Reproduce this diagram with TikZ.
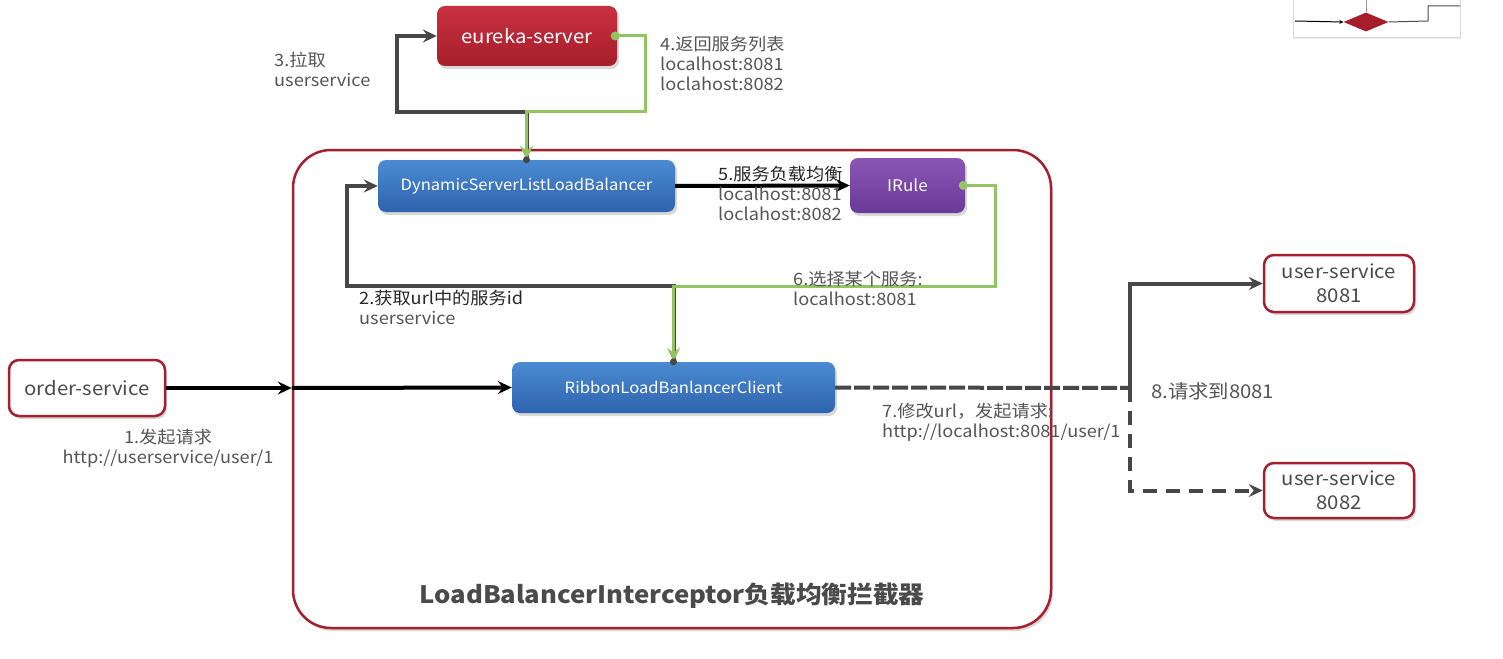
\documentclass[tikz,border=0pt]{standalone}
\usepackage{fontspec}
\setmainfont{Noto Sans CJK SC}[FakeStretch=1.07]
\usetikzlibrary{arrows.meta,shadows,calc,shapes.geometric}
\definecolor{ekTop}{HTML}{C9303F}
\definecolor{ekBot}{HTML}{A61E2C}
\definecolor{blTop}{HTML}{4B8BD1}
\definecolor{blBot}{HTML}{2E63AE}
\definecolor{puTop}{HTML}{8A56B6}
\definecolor{puBot}{HTML}{693A98}
\definecolor{grn}{HTML}{93C462}
\definecolor{dkln}{HTML}{474747}
\definecolor{brdRed}{HTML}{A4202F}
\definecolor{txtGray}{HTML}{4A4A4A}
\definecolor{lblGray}{HTML}{555555}
\begin{document}
\begin{tikzpicture}[x=1pt,y=-1pt,
 shd/.style={drop shadow={shadow xshift=2pt,shadow yshift=-3pt,opacity=0.25,fill=black!60}},
 gbox/.style={rounded corners=8pt, text=white, inner sep=0pt, shd},
 redbox/.style={gbox, top color=ekTop, bottom color=ekBot, font=\fontsize{19}{20}\selectfont},
 bluebox/.style={gbox, top color=blTop, bottom color=blBot, font=\fontsize{15.5}{18}\selectfont},
 purbox/.style={gbox, top color=puTop, bottom color=puBot, font=\fontsize{16}{18}\selectfont},
 wbox/.style={draw=brdRed, line width=2.5pt, fill=white, rounded corners=10pt, text=txtGray, align=center, font=\fontsize{19}{24}\selectfont, inner sep=0pt, shd},
 lbl/.style={font=\fontsize{17}{20}\selectfont, text=lblGray, align=left, inner sep=0pt, anchor=north west},
 arrowend/.style={-{Stealth[length=14pt,width=13pt,inset=5pt]}},
 dkline/.style={draw=dkln, line width=4pt},
 blkline/.style={draw=black, line width=4pt},
 gnline/.style={draw=grn, line width=3pt},
]
\useasboundingbox (0,0) rectangle (1503,658);
\fill[white] (0,0) rectangle (1503,658);

% container
\node[draw=brdRed, line width=2.5pt, rounded corners=38pt, minimum width=758pt, minimum height=478pt, fill=white, shd] (lbi) at (672,389) {};
\node[font=\bfseries\fontsize{24}{28}\selectfont, text=txtGray] (title) at (672,596) {LoadBalancerInterceptor负载均衡拦截器};

% boxes
\node[redbox, minimum width=180pt, minimum height=60pt] (eureka) at (527,36) {eureka-server};
\node[bluebox, minimum width=297pt, minimum height=52pt] (dyn) at (526.5,186) {DynamicServerListLoadBalancer};
\node[purbox, minimum width=115pt, minimum height=55pt] (irule) at (907.5,185.5) {IRule};
\node[bluebox, minimum width=323pt, minimum height=51pt] (ribbon) at (673.5,387.5) {RibbonLoadBanlancerClient};
\node[wbox, minimum width=156pt, minimum height=56pt] (order) at (87,388) {order-service};
\node[wbox, minimum width=150pt, minimum height=57pt] (us1) at (1339,283.5) {user-service\\8081};
\node[wbox, minimum width=150pt, minimum height=55pt] (us2) at (1339,490.5) {user-service\\8082};

% junctions
\coordinate (j1) at (526.5,112);
\coordinate (k1) at (397,112);
\coordinate (g1) at (645,112);
\coordinate (j2) at (673.5,286);
\coordinate (k2) at (347,286);
\coordinate (g2) at (995,286);
\coordinate (j7) at (1130,388);

% 3: pull
\draw[dkline, arrowend] (dyn.north) -- (j1) -- (k1) |- (eureka.west);
% 4: return list
\draw[gnline, arrowend] (eureka.east) -| (g1) -- (j1) -- (dyn.north);
\fill[grn] ([xshift=-2pt]eureka.east) circle (4.5pt);
\fill[dkln] (dyn.north) circle (3.5pt);

% 5
\draw[blkline, arrowend] (dyn.east) -- (irule.west);

% 2
\draw[dkline, arrowend] (ribbon.north) -- (j2) -- (k2) |- (dyn.west);
% 6
\draw[gnline, arrowend] (irule.east) -| (g2) -- (j2) -- (ribbon.north);
\fill[grn] ([xshift=-2pt]irule.east) circle (4.5pt);
\fill[dkln] (ribbon.north) circle (3.5pt);

% 1
\draw[blkline, arrowend] (order.east) -- (order.east -| lbi.west);
\draw[blkline, arrowend] (order.east -| lbi.west) -- (ribbon.west);

% 7/8
\draw[dkline, dash pattern=on 16pt off 3pt] (ribbon.east) -- (j7);
\draw[dkline, arrowend] (j7) |- (us1.west);
\draw[dkline, dash pattern=on 14pt off 9pt, arrowend] (j7) |- (us2.west);

% labels
\node[lbl] (l3) at (274,52) {3.拉取\\userservice};
\node[lbl] (l4) at (660,36) {4.返回服务列表\\localhost:8081\\loclahost:8082};
\node[lbl] (l5) at (718,166) {\textcolor{black!85}{5.服务负载均衡}\\localhost:8081\\loclahost:8082};
\node[lbl] (l6) at (793,271) {6.选择某个服务:\\localhost:8081};
\node[lbl] (l2) at (359,290) {\textcolor{black!85}{2.获取url中的服务id}\\userservice};
\node[lbl, align=center, anchor=north] (l1) at (168,429) {1.发起请求\\http://userservice/user/1};
\node[lbl] (l7) at (882,403) {7.修改url，发起请求:\\http://localhost:8081/user/1};
\node[lbl, font=\fontsize{19}{22}\selectfont, anchor=west] (l8) at (1151,391) {8.请求到8081};

% thumbnail (top right)
\node[draw=black!15, fill=white, minimum width=167pt, minimum height=44pt, inner sep=0pt, drop shadow={shadow xshift=1pt,shadow yshift=-2pt,opacity=0.15}] (thumb) at (1376.5,15) {};
\node[diamond, aspect=2.2, fill=ekBot, minimum width=45pt, minimum height=19pt, inner sep=0pt] (thd) at (1366,22) {};
\coordinate (t1) at (1295,21);
\coordinate (t2) at (1428,21);
\coordinate (t3) at (1428,6);
\coordinate (t4) at (1460,6);
\coordinate (t5) at (1366,0);
\draw[black, line width=1pt, -{Stealth[length=4pt,width=4pt]}] (t1) -- (thd.west);
\draw[black!70, line width=1pt] (thd.east) -- (t2) -- (t3) -- (t4);
\draw[black!40, line width=1pt] (t5) -- (thd.north);
\end{tikzpicture}
\end{document}
